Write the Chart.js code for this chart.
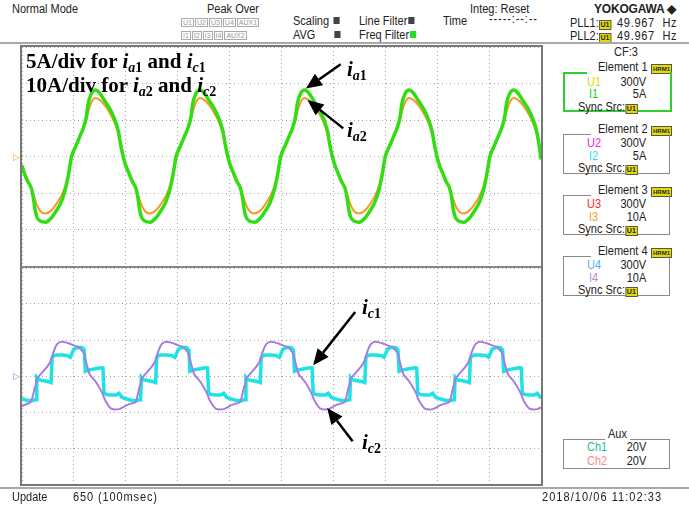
<!DOCTYPE html>
<html>
<head>
<meta charset="utf-8">
<script src="https://cdn.jsdelivr.net/npm/chart.js@4.4.0/dist/chart.umd.min.js"></script>
<style>
body { margin: 0; background: #fff; }
#screen { position: relative; width: 689px; height: 506px; overflow: hidden; background: #fff;
  font-family: "Liberation Sans", Arial, sans-serif; font-size: 12.5px; color: #222; }
.t { position: absolute; white-space: nowrap; line-height: 1; transform: scaleX(0.88); transform-origin: left top; }
.r { position: absolute; white-space: nowrap; line-height: 1; right: 43px; transform: scaleX(0.88); transform-origin: right top; }
.box { display: inline-block; border: 1px solid #aaa; color: #999; font-size: 7px; line-height: 7px; padding: 0 1px; margin-right: 1px; }
.sq { display: inline-block; width: 7px; height: 7px; background: #444; margin-left: 5px; vertical-align: 1px; }
.badge { display: inline-block; background: #e4dc00; border: 1px solid #555; color: #222; font-size: 8px; font-weight: bold; line-height: 8px; padding: 0 1px; }
.elbox { position: absolute; left: 563px; width: 105px; border: 1px solid #888; border-top: none; }
.elbox.sel { border: 2px solid #3c3; border-top: none; }
.seg { position: absolute; height: 1px; background: #888; }
.ann { position: absolute; white-space: nowrap; line-height: 1; font-family: "Liberation Serif", "Times New Roman", serif; font-weight: bold; font-size: 21px; color: #000; }
.ann sub { font-size: 14px; vertical-align: baseline; position: relative; top: 4px; }
.panel { position: absolute; left: 22px; width: 519px; }
</style>
</head>
<body>
<div id="screen">
  <!-- header -->
  <div class="t" style="left:12px;top:3px">Normal Mode</div>
  <div class="t" style="left:207px;top:3px">Peak Over</div>
  <div class="t" style="left:181px;top:15px;transform:none"><span class="box">U1</span><span class="box">U2</span><span class="box">U3</span><span class="box">U4</span><span class="box">AUX1</span></div>
  <div class="t" style="left:181px;top:28px;transform:none"><span class="box">I1</span><span class="box">I2</span><span class="box">I3</span><span class="box">I4</span><span class="box">AUX2</span></div>
  <div class="t" style="left:293px;top:15px">Scaling<span class="sq"></span></div>
  <div class="t" style="left:293px;top:29px">AVG<span class="sq" style="margin-left:22px"></span></div>
  <div class="t" style="left:359px;top:15px">Line Filter<span class="sq" style="margin-left:1px"></span></div>
  <div class="t" style="left:359px;top:29px">Freq Filter<span class="sq" style="margin-left:1px;background:#2d2"></span></div>
  <div class="t" style="left:443px;top:15px">Time</div>
  <div class="t" style="left:489px;top:13px;letter-spacing:1px">-----:--:--</div>
  <div class="t" style="left:470px;top:3px">Integ: Reset</div>
  <div class="t" style="left:594px;top:3px;transform:none;font-weight:bold;font-size:12px;letter-spacing:-0.2px">YOKOGAWA &#9670;</div>
  <div class="t" style="left:570px;top:17px">PLL1:<span class="badge">U1</span></div>
  <div class="t" style="left:617px;top:17px;letter-spacing:0.8px">49.967&nbsp; Hz</div>
  <div class="t" style="left:570px;top:30px">PLL2:<span class="badge">U1</span></div>
  <div class="t" style="left:617px;top:30px;letter-spacing:0.8px">49.967&nbsp; Hz</div>
  <div style="position:absolute;left:0;top:42px;width:689px;height:2px;background:#aaa"></div>

  <!-- scope panels -->
  <div class="panel" style="top:47px;height:219px"><canvas id="upper"></canvas></div>
  <div class="panel" style="top:268px;height:216px"><canvas id="lower"></canvas></div>
  <div style="position:absolute;left:22px;top:266px;width:519px;height:2px;background:#888"></div>
  <div style="position:absolute;left:20px;top:45px;width:519px;height:437px;border:2px solid #777;pointer-events:none"></div>
  <div class="t" style="left:13px;top:153px;color:#f39a2a;font-size:9px;transform:none">&#9655;</div>
  <div class="t" style="left:13px;top:372px;color:#a978e0;font-size:9px;transform:none">&#9655;</div>

  <!-- annotations -->
  <div class="ann" style="left:26px;top:51px">5A/div for <i>i</i><sub><i>a</i>1</sub> and <i>i</i><sub><i>c</i>1</sub></div>
  <div class="ann" style="left:26px;top:75px">10A/div for <i>i</i><sub><i>a</i>2</sub> and <i>i</i><sub><i>c</i>2</sub></div>
  <div class="ann" style="left:347px;top:59px"><i>i</i><sub><i>a</i>1</sub></div>
  <div class="ann" style="left:347px;top:120px"><i>i</i><sub><i>a</i>2</sub></div>
  <div class="ann" style="left:362px;top:297px"><i>i</i><sub><i>c</i>1</sub></div>
  <div class="ann" style="left:362px;top:432px"><i>i</i><sub><i>c</i>2</sub></div>

  <!-- right side: elements -->
  <div class="t" style="left:614px;top:46px">CF:3</div>

  <div class="t" style="left:598px;top:61px">Element 1</div>
  <div class="t" style="left:651px;top:61px;transform:none"><span class="badge" style="font-size:6px">HRM1</span></div>
  <div class="elbox sel" style="top:72px;height:38px"></div>
  <div class="seg" style="left:563px;top:72px;width:24px;height:2px;background:#3c3"></div>
  <div class="t" style="left:587px;top:76px;color:#e0d800">U1</div>
  <div class="r" style="top:76px">300V</div>
  <div class="t" style="left:589px;top:88px;color:#2c2">I1</div>
  <div class="r" style="top:88px">5A</div>
  <div class="t" style="left:578px;top:101px">Sync Src:<span class="badge">U1</span></div>

  <div class="t" style="left:598px;top:123px">Element 2</div>
  <div class="t" style="left:651px;top:123px;transform:none"><span class="badge" style="font-size:6px">HRM1</span></div>
  <div class="elbox" style="top:134px;height:39px"></div>
  <div class="seg" style="left:563px;top:134px;width:28px"></div>
  <div class="t" style="left:587px;top:137px;color:#e2e">U2</div>
  <div class="r" style="top:137px">300V</div>
  <div class="t" style="left:589px;top:150px;color:#2ce0ee">I2</div>
  <div class="r" style="top:150px">5A</div>
  <div class="t" style="left:578px;top:162px">Sync Src:<span class="badge">U1</span></div>

  <div class="t" style="left:598px;top:184px">Element 3</div>
  <div class="t" style="left:651px;top:184px;transform:none"><span class="badge" style="font-size:6px">HRM1</span></div>
  <div class="elbox" style="top:195px;height:39px"></div>
  <div class="seg" style="left:563px;top:195px;width:28px"></div>
  <div class="t" style="left:587px;top:198px;color:#f22">U3</div>
  <div class="r" style="top:198px">300V</div>
  <div class="t" style="left:589px;top:211px;color:#f93">I3</div>
  <div class="r" style="top:211px">10A</div>
  <div class="t" style="left:578px;top:223px">Sync Src:<span class="badge">U1</span></div>

  <div class="t" style="left:598px;top:245px">Element 4</div>
  <div class="t" style="left:651px;top:245px;transform:none"><span class="badge" style="font-size:6px">HRM1</span></div>
  <div class="elbox" style="top:256px;height:39px"></div>
  <div class="seg" style="left:563px;top:256px;width:28px"></div>
  <div class="t" style="left:587px;top:259px;color:#5af">U4</div>
  <div class="r" style="top:259px">300V</div>
  <div class="t" style="left:589px;top:272px;color:#b8d">I4</div>
  <div class="r" style="top:272px">10A</div>
  <div class="t" style="left:578px;top:284px">Sync Src:<span class="badge">U1</span></div>

  <div class="t" style="left:608px;top:428px">Aux</div>
  <div class="elbox" style="top:439px;height:29px"></div>
  <div class="seg" style="left:563px;top:439px;width:42px"></div>
  <div class="seg" style="left:630px;top:439px;width:40px"></div>
  <div class="t" style="left:587px;top:441px;color:#2b9">Ch1</div>
  <div class="r" style="top:441px">20V</div>
  <div class="t" style="left:587px;top:455px;color:#f88">Ch2</div>
  <div class="r" style="top:455px">20V</div>

  <!-- footer -->
  <div style="position:absolute;left:0;top:487px;width:689px;height:2px;background:#aaa"></div>
  <div class="t" style="left:12px;top:491px">Update</div>
  <div class="t" style="left:73px;top:491px;letter-spacing:1px">650 (100msec)</div>
  <div class="t" style="left:542px;top:491px;letter-spacing:1.2px">2018/10/06 11:02:33</div>
</div>

<script>
// values are in screen divisions (10 across, 6 per panel, 0 = centre line)

// upper panel: i_a1 (green, 5A/div) and i_a2 (orange, 10A/div)
const upperTime = [
    0.000,
    0.035, 0.115, 0.175, 0.215, 0.245, 0.285, 0.355, 0.455, 0.555, 0.655, 0.755, 0.835, 0.895, 0.955, 1.035, 1.115, 1.175, 1.235, 1.275, 1.335, 1.415, 1.495, 1.595, 1.695, 1.785, 1.855, 1.905,
    1.950, 2.000, 2.050, 2.130, 2.190, 2.230, 2.260, 2.300, 2.370, 2.470, 2.570, 2.670, 2.770, 2.850, 2.910, 2.970, 3.050, 3.130, 3.190, 3.250, 3.290, 3.350, 3.430, 3.510, 3.610, 3.710, 3.800, 3.870, 3.920,
    3.965, 4.015, 4.065, 4.145, 4.205, 4.245, 4.275, 4.315, 4.385, 4.485, 4.585, 4.685, 4.785, 4.865, 4.925, 4.985, 5.065, 5.145, 5.205, 5.265, 5.305, 5.365, 5.445, 5.525, 5.625, 5.725, 5.815, 5.885, 5.935,
    5.980, 6.030, 6.080, 6.160, 6.220, 6.260, 6.290, 6.330, 6.400, 6.500, 6.600, 6.700, 6.800, 6.880, 6.940, 7.000, 7.080, 7.160, 7.220, 7.280, 7.320, 7.380, 7.460, 7.540, 7.640, 7.740, 7.830, 7.900, 7.950,
    7.995, 8.045, 8.095, 8.175, 8.235, 8.275, 8.305, 8.345, 8.415, 8.515, 8.615, 8.715, 8.815, 8.895, 8.955, 9.015, 9.095, 9.175, 9.235, 9.295, 9.335, 9.395, 9.475, 9.555, 9.655, 9.755, 9.845, 9.915, 9.965,
    10.000
];
const ia1 = [
    -0.25,
    -0.42, -0.70, -0.85, -1.10, -1.40, -1.65, -1.77, -1.80, -1.70, -1.50, -1.25, -0.90, -0.50, 0.00, 0.28, 0.55, 0.75, 1.05, 1.45, 1.72, 1.82, 1.74, 1.52, 1.30, 1.02, 0.70, 0.30,
    0.00, -0.25, -0.42, -0.70, -0.85, -1.10, -1.40, -1.65, -1.77, -1.80, -1.70, -1.50, -1.25, -0.90, -0.50, 0.00, 0.28, 0.55, 0.75, 1.05, 1.45, 1.72, 1.82, 1.74, 1.52, 1.30, 1.02, 0.70, 0.30,
    0.00, -0.25, -0.42, -0.70, -0.85, -1.10, -1.40, -1.65, -1.77, -1.80, -1.70, -1.50, -1.25, -0.90, -0.50, 0.00, 0.28, 0.55, 0.75, 1.05, 1.45, 1.72, 1.82, 1.74, 1.52, 1.30, 1.02, 0.70, 0.30,
    0.00, -0.25, -0.42, -0.70, -0.85, -1.10, -1.40, -1.65, -1.77, -1.80, -1.70, -1.50, -1.25, -0.90, -0.50, 0.00, 0.28, 0.55, 0.75, 1.05, 1.45, 1.72, 1.82, 1.74, 1.52, 1.30, 1.02, 0.70, 0.30,
    0.00, -0.25, -0.42, -0.70, -0.85, -1.10, -1.40, -1.65, -1.77, -1.80, -1.70, -1.50, -1.25, -0.90, -0.50, 0.00, 0.28, 0.55, 0.75, 1.05, 1.45, 1.72, 1.82, 1.74, 1.52, 1.30, 1.02, 0.70, 0.30,
    -0.08
];
const ia2 = [
    -0.22,
    -0.40, -0.66, -0.86, -1.02, -1.15, -1.32, -1.50, -1.56, -1.49, -1.32, -1.08, -0.80, -0.45, -0.02, 0.26, 0.52, 0.74, 0.98, 1.22, 1.48, 1.60, 1.55, 1.40, 1.18, 0.92, 0.62, 0.28,
    0.02, -0.20, -0.40, -0.66, -0.86, -1.02, -1.15, -1.32, -1.50, -1.56, -1.49, -1.32, -1.08, -0.80, -0.45, -0.02, 0.26, 0.52, 0.74, 0.98, 1.22, 1.48, 1.60, 1.55, 1.40, 1.18, 0.92, 0.62, 0.28,
    0.02, -0.20, -0.40, -0.66, -0.86, -1.02, -1.15, -1.32, -1.50, -1.56, -1.49, -1.32, -1.08, -0.80, -0.45, -0.02, 0.26, 0.52, 0.74, 0.98, 1.22, 1.48, 1.60, 1.55, 1.40, 1.18, 0.92, 0.62, 0.28,
    0.02, -0.20, -0.40, -0.66, -0.86, -1.02, -1.15, -1.32, -1.50, -1.56, -1.49, -1.32, -1.08, -0.80, -0.45, -0.02, 0.26, 0.52, 0.74, 0.98, 1.22, 1.48, 1.60, 1.55, 1.40, 1.18, 0.92, 0.62, 0.28,
    0.02, -0.20, -0.40, -0.66, -0.86, -1.02, -1.15, -1.32, -1.50, -1.56, -1.49, -1.32, -1.08, -0.80, -0.45, -0.02, 0.26, 0.52, 0.74, 0.98, 1.22, 1.48, 1.60, 1.55, 1.40, 1.18, 0.92, 0.62, 0.28,
    -0.06
];

// lower panel: i_c1 (cyan, 5A/div) and i_c2 (purple, 10A/div)
const lowerTime = [
    0.000, 0.100, 0.170,
    0.210, 0.250, 0.270, 0.285, 0.320, 0.420, 0.520, 0.560, 0.580, 0.620, 0.680, 0.770, 0.870, 0.930, 1.000, 1.090, 1.160, 1.200, 1.220, 1.260, 1.300, 1.360, 1.440, 1.520, 1.560, 1.580, 1.620, 1.710, 1.810, 1.870, 1.930, 2.020, 2.120, 2.190,
    2.225, 2.265, 2.285, 2.300, 2.335, 2.435, 2.535, 2.575, 2.595, 2.635, 2.695, 2.785, 2.885, 2.945, 3.015, 3.105, 3.175, 3.215, 3.235, 3.275, 3.315, 3.375, 3.455, 3.535, 3.575, 3.595, 3.635, 3.725, 3.825, 3.885, 3.945, 4.035, 4.135, 4.205,
    4.240, 4.280, 4.300, 4.315, 4.350, 4.450, 4.550, 4.590, 4.610, 4.650, 4.710, 4.800, 4.900, 4.960, 5.030, 5.120, 5.190, 5.230, 5.250, 5.290, 5.330, 5.390, 5.470, 5.550, 5.590, 5.610, 5.650, 5.740, 5.840, 5.900, 5.960, 6.050, 6.150, 6.220,
    6.255, 6.295, 6.315, 6.330, 6.365, 6.465, 6.565, 6.605, 6.625, 6.665, 6.725, 6.815, 6.915, 6.975, 7.045, 7.135, 7.205, 7.245, 7.265, 7.305, 7.345, 7.405, 7.485, 7.565, 7.605, 7.625, 7.665, 7.755, 7.855, 7.915, 7.975, 8.065, 8.165, 8.235,
    8.270, 8.310, 8.330, 8.345, 8.380, 8.480, 8.580, 8.620, 8.640, 8.680, 8.740, 8.830, 8.930, 8.990, 9.060, 9.150, 9.220, 9.260, 9.280, 9.320, 9.360, 9.420, 9.500, 9.580, 9.620, 9.640, 9.680, 9.770, 9.870, 9.930, 9.990,
    10.000
];
const ic1 = [
    -0.63, -0.68, -0.68,
    -0.68, -0.66, -0.66, -0.04, -0.10, -0.13, -0.16, -0.18, 0.50, 0.57, 0.58, 0.58, 0.57, 0.52, 0.75, 0.80, 0.79, 0.72, 0.13, 0.15, 0.17, 0.19, 0.21, 0.23, 0.22, -0.46, -0.51, -0.53, -0.53, -0.48, -0.60, -0.64, -0.68, -0.68,
    -0.68, -0.66, -0.66, -0.04, -0.10, -0.13, -0.16, -0.18, 0.50, 0.57, 0.58, 0.58, 0.57, 0.52, 0.75, 0.80, 0.79, 0.72, 0.13, 0.15, 0.17, 0.19, 0.21, 0.23, 0.22, -0.46, -0.51, -0.53, -0.53, -0.48, -0.60, -0.64, -0.68, -0.68,
    -0.68, -0.66, -0.66, -0.04, -0.10, -0.13, -0.16, -0.18, 0.50, 0.57, 0.58, 0.58, 0.57, 0.52, 0.75, 0.80, 0.79, 0.72, 0.13, 0.15, 0.17, 0.19, 0.21, 0.23, 0.22, -0.46, -0.51, -0.53, -0.53, -0.48, -0.60, -0.64, -0.68, -0.68,
    -0.68, -0.66, -0.66, -0.04, -0.10, -0.13, -0.16, -0.18, 0.50, 0.57, 0.58, 0.58, 0.57, 0.52, 0.75, 0.80, 0.79, 0.72, 0.13, 0.15, 0.17, 0.19, 0.21, 0.23, 0.22, -0.46, -0.51, -0.53, -0.53, -0.48, -0.60, -0.64, -0.68, -0.68,
    -0.68, -0.66, -0.66, -0.04, -0.10, -0.13, -0.16, -0.18, 0.50, 0.57, 0.58, 0.58, 0.57, 0.52, 0.75, 0.80, 0.79, 0.72, 0.13, 0.15, 0.17, 0.19, 0.21, 0.23, 0.22, -0.46, -0.51, -0.53, -0.53, -0.48, -0.60,
    -0.61
];
const ic2 = [
    -0.84, -0.77, -0.72,
    -0.55, -0.30, -0.22, -0.10, -0.02, 0.15, 0.33, 0.45, 0.55, 0.72, 0.89, 0.95, 0.92, 0.89, 0.85, 0.80, 0.70, 0.60, 0.48, 0.25, 0.06, -0.05, -0.20, -0.40, -0.52, -0.60, -0.72, -0.90, -0.93, -0.92, -0.88, -0.81, -0.76, -0.72,
    -0.55, -0.30, -0.22, -0.10, -0.02, 0.15, 0.33, 0.45, 0.55, 0.72, 0.89, 0.95, 0.92, 0.89, 0.85, 0.80, 0.70, 0.60, 0.48, 0.25, 0.06, -0.05, -0.20, -0.40, -0.52, -0.60, -0.72, -0.90, -0.93, -0.92, -0.88, -0.81, -0.76, -0.72,
    -0.55, -0.30, -0.22, -0.10, -0.02, 0.15, 0.33, 0.45, 0.55, 0.72, 0.89, 0.95, 0.92, 0.89, 0.85, 0.80, 0.70, 0.60, 0.48, 0.25, 0.06, -0.05, -0.20, -0.40, -0.52, -0.60, -0.72, -0.90, -0.93, -0.92, -0.88, -0.81, -0.76, -0.72,
    -0.55, -0.30, -0.22, -0.10, -0.02, 0.15, 0.33, 0.45, 0.55, 0.72, 0.89, 0.95, 0.92, 0.89, 0.85, 0.80, 0.70, 0.60, 0.48, 0.25, 0.06, -0.05, -0.20, -0.40, -0.52, -0.60, -0.72, -0.90, -0.93, -0.92, -0.88, -0.81, -0.76, -0.72,
    -0.55, -0.30, -0.22, -0.10, -0.02, 0.15, 0.33, 0.45, 0.55, 0.72, 0.89, 0.95, 0.92, 0.89, 0.85, 0.80, 0.70, 0.60, 0.48, 0.25, 0.06, -0.05, -0.20, -0.40, -0.52, -0.60, -0.72, -0.90, -0.93, -0.92, -0.88,
    -0.87
];

// annotation arrows, [tailX, tailY, tipX, tipY] in divisions
const upperArrows = [[6.14, 2.53, 5.47, 1.86], [6.19, 0.77, 5.50, 1.55]];
const lowerArrows = [[6.42, 1.78, 5.61, 0.30], [6.37, -1.81, 5.88, -0.89]];

function pairs(xs, ys) {
    return xs.map((x, i) => ({ x: x, y: ys[i] }));
}

function drawArrow(ctx, x1, y1, x2, y2) {
    const ang = Math.atan2(y2 - y1, x2 - x1);
    const head = 16, half = 7;
    const bx = x2 - head * Math.cos(ang), by = y2 - head * Math.sin(ang);
    ctx.save();
    ctx.strokeStyle = '#000';
    ctx.fillStyle = '#000';
    ctx.lineWidth = 2.5;
    ctx.beginPath();
    ctx.moveTo(x1, y1);
    ctx.lineTo(bx, by);
    ctx.stroke();
    ctx.beginPath();
    ctx.moveTo(x2, y2);
    ctx.lineTo(bx + half * Math.sin(ang), by - half * Math.cos(ang));
    ctx.lineTo(bx - half * Math.sin(ang), by + half * Math.cos(ang));
    ctx.closePath();
    ctx.fill();
    ctx.restore();
}

function arrowPlugin(list) {
    return {
        id: 'arrows',
        afterDatasetsDraw(chart) {
            const xs = chart.scales.x, ys = chart.scales.y;
            list.forEach(a => {
                drawArrow(chart.ctx, xs.getPixelForValue(a[0]), ys.getPixelForValue(a[1]),
                    xs.getPixelForValue(a[2]), ys.getPixelForValue(a[3]));
            });
        }
    };
}

function axis(min, max) {
    return {
        type: 'linear',
        min: min,
        max: max,
        ticks: { display: false, stepSize: 1 },
        grid: { color: '#a8a8a8', lineWidth: 1, drawTicks: false },
        border: { display: false, dash: [1, 3] }
    };
}

function makeScope(id, datasets, arrows) {
    return new Chart(document.getElementById(id), {
        type: 'line',
        data: { datasets: datasets },
        options: {
            responsive: true,
            maintainAspectRatio: false,
            animation: false,
            layout: { padding: 0 },
            elements: { point: { radius: 0 } },
            plugins: { legend: { display: false }, tooltip: { enabled: false } },
            scales: { x: axis(0, 10), y: axis(-3, 3) }
        },
        plugins: [arrowPlugin(arrows)]
    });
}

makeScope('upper', [
    { label: 'ia1', data: pairs(upperTime, ia1), borderColor: '#33dd14', borderWidth: 3.5, cubicInterpolationMode: 'monotone' },
    { label: 'ia2', data: pairs(upperTime, ia2), borderColor: '#f5992a', borderWidth: 2, cubicInterpolationMode: 'monotone' }
], upperArrows);

makeScope('lower', [
    { label: 'ic2', data: pairs(lowerTime, ic2), borderColor: '#a97be0', borderWidth: 2, cubicInterpolationMode: 'monotone' },
    { label: 'ic1', data: pairs(lowerTime, ic1), borderColor: '#1ee3e6', borderWidth: 3.5, tension: 0 }
], lowerArrows);
</script>
</body>
</html>
